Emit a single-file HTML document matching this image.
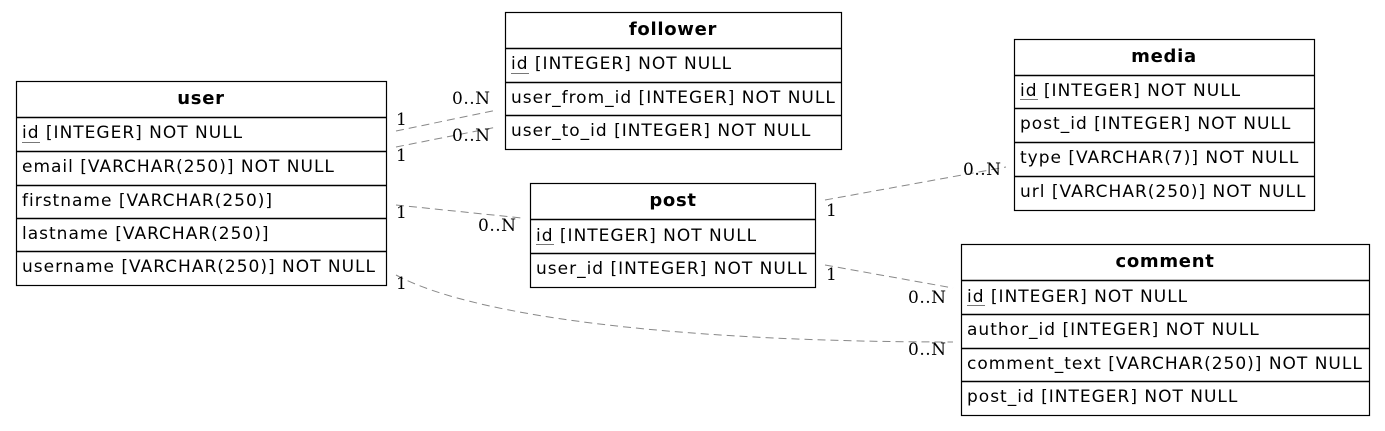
<!DOCTYPE html>
<html><head><meta charset="utf-8"><style>
html,body{margin:0;padding:0;background:#fff;}
svg text{font-family:"DejaVu Sans","Liberation Sans",sans-serif;font-size:17px;letter-spacing:1px;fill:#000;}
svg text.h{font-weight:bold;font-size:18px;letter-spacing:0.7px;}
svg text.l{font-family:"DejaVu Serif","Liberation Serif",serif;font-size:17px;letter-spacing:0.5px;}
</style></head><body>
<svg width="1385" height="426" viewBox="0 0 1385 426" xmlns="http://www.w3.org/2000/svg">
<g fill="none" stroke="#888" stroke-width="1" stroke-dasharray="8,5">
<path d="M396,131 L497,110"/>
<path d="M396,147 L497,127"/>
<path d="M396,205 L522,218"/>
<path d="M396,275 C480,320 700,342 953,342"/>
<path d="M825,200 L1006,167"/>
<path d="M825,265 L953,288"/>
</g>
<g>
<text class="l" x="396" y="125">1</text><text class="l" x="452" y="104">0..N</text>
<text class="l" x="396" y="161">1</text><text class="l" x="452" y="141">0..N</text>
<text class="l" x="396" y="218">1</text><text class="l" x="478" y="231">0..N</text>
<text class="l" x="396" y="289">1</text><text class="l" x="908" y="355">0..N</text>
<text class="l" x="826" y="216">1</text><text class="l" x="963" y="175">0..N</text>
<text class="l" x="826" y="280">1</text><text class="l" x="908" y="303">0..N</text>
</g>
<g fill="#fff" stroke="#000" stroke-width="1.2">
<rect x="16.5" y="81.5" width="370" height="204"/>
<rect x="505.5" y="12.5" width="336" height="137"/>
<rect x="1014.5" y="39.5" width="300" height="171"/>
<rect x="530.5" y="183.5" width="285" height="104"/>
<rect x="961.5" y="244.5" width="408" height="171"/>
</g>
<g stroke="#000" stroke-width="1.5">
<path d="M16,117.5H387M16,151.5H387M16,185.5H387M16,218.5H387M16,251.5H387"/>
<path d="M505,48.5H842M505,82.5H842M505,115.5H842"/>
<path d="M1014,75.5H1315M1014,108.5H1315M1014,142.5H1315M1014,176.5H1315"/>
<path d="M530,219.5H816M530,253.5H816"/>
<path d="M961,280.5H1370M961,314.5H1370M961,348.5H1370M961,381.5H1370"/>
</g>
<g stroke="#777" stroke-width="1">
<path d="M22,142.5H40M511,73.5H529M1020,99.5H1038M536,244.5H554M967,305.5H985"/>
</g>
<text class="h" x="201" y="104" text-anchor="middle">user</text>
<text x="22" y="138">id [INTEGER] NOT NULL</text>
<text x="22" y="172">email [VARCHAR(250)] NOT NULL</text>
<text x="22" y="206">firstname [VARCHAR(250)]</text>
<text x="22" y="239">lastname [VARCHAR(250)]</text>
<text x="22" y="272">username [VARCHAR(250)] NOT NULL</text>

<text class="h" x="673" y="35" text-anchor="middle">follower</text>
<text x="511" y="69">id [INTEGER] NOT NULL</text>
<text x="511" y="103">user_from_id [INTEGER] NOT NULL</text>
<text x="511" y="136">user_to_id [INTEGER] NOT NULL</text>

<text class="h" x="1164" y="62" text-anchor="middle">media</text>
<text x="1020" y="96">id [INTEGER] NOT NULL</text>
<text x="1020" y="129">post_id [INTEGER] NOT NULL</text>
<text x="1020" y="163">type [VARCHAR(7)] NOT NULL</text>
<text x="1020" y="197">url [VARCHAR(250)] NOT NULL</text>

<text class="h" x="673" y="206" text-anchor="middle">post</text>
<text x="536" y="241">id [INTEGER] NOT NULL</text>
<text x="536" y="274">user_id [INTEGER] NOT NULL</text>

<text class="h" x="1165" y="267" text-anchor="middle">comment</text>
<text x="967" y="302">id [INTEGER] NOT NULL</text>
<text x="967" y="335">author_id [INTEGER] NOT NULL</text>
<text x="967" y="369">comment_text [VARCHAR(250)] NOT NULL</text>
<text x="967" y="402">post_id [INTEGER] NOT NULL</text>
</svg>
</body></html>
